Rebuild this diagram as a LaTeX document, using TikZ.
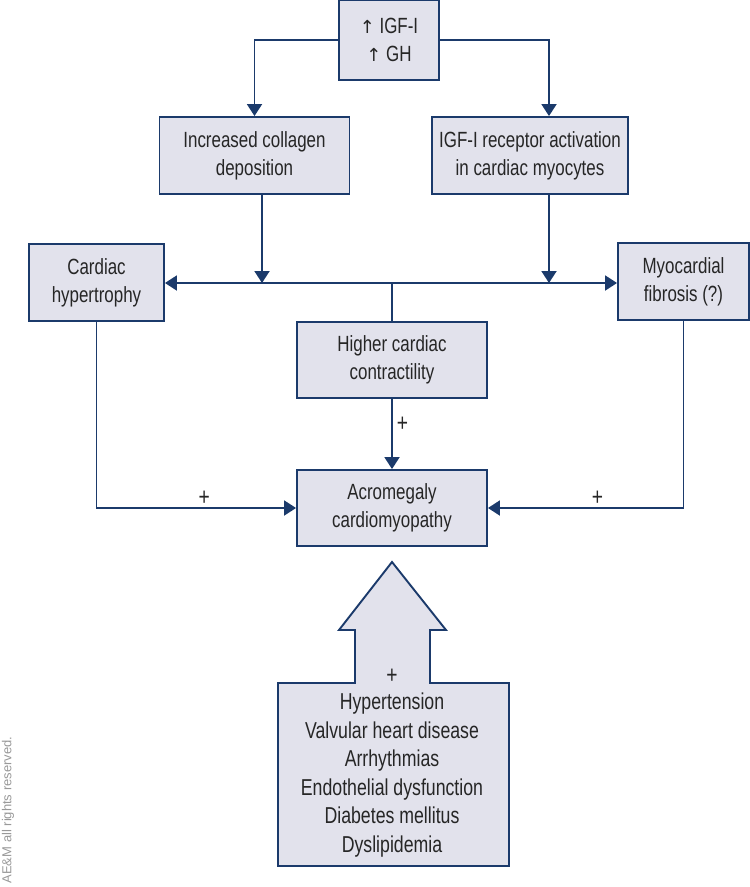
\documentclass[tikz,border=0pt]{standalone}
\usepackage{fontspec}
\setmainfont{Liberation Sans}[FakeStretch=0.77]
\newfontfamily\symfont{DejaVu Sans}
\newfontfamily\wmfont{Liberation Sans}
\usetikzlibrary{arrows.meta}
\definecolor{boxfill}{HTML}{E2E2EC}
\definecolor{navy}{HTML}{1B3A6B}
\definecolor{txt}{HTML}{262626}
\begin{document}
\begin{tikzpicture}[x=1pt,y=-1pt,
  box/.style={draw=navy, fill=boxfill, line width=1.9pt, align=center, text=txt,
    font=\fontsize{22}{28}\selectfont, inner sep=0pt},
  conn/.style={draw=navy, line width=1.9pt},
  arr/.style={conn, -{Triangle[length=12pt,width=15pt]}},
  plus/.style={text=txt, font=\fontsize{25}{25}\selectfont, inner sep=1pt}]
\useasboundingbox (0,0) rectangle (750,887);
\node[box, minimum width=100pt, minimum height=80pt] (top) at (389,40) {{\symfont\fontsize{18}{18}\selectfont ↑} IGF-I\\{\symfont\fontsize{18}{18}\selectfont ↑} GH};
\node[box, minimum width=190pt, minimum height=77pt] (coll) at (254.5,155.5) {Increased collagen\\deposition};
\node[box, minimum width=196pt, minimum height=77pt] (rec) at (530,155.5) {IGF-I receptor activation\\in cardiac myocytes};
\node[box, minimum width=135pt, minimum height=77pt] (hyp) at (96.5,282.5) {Cardiac\\hypertrophy};
\node[box, minimum width=131pt, minimum height=77pt] (myo) at (683.5,281.5) {Myocardial\\fibrosis (?)};
\node[box, minimum width=190pt, minimum height=76pt] (high) at (392,360) {Higher cardiac\\contractility};
\node[box, minimum width=190pt, minimum height=76pt] (acro) at (392,508) {Acromegaly\\cardiomyopathy};
\coordinate (j) at (392,283);
% big arrow + bottom box
\path[draw=navy, fill=boxfill, line width=1.9pt, line join=miter]
  (278,683) -- (355,683) -- (355,630) -- (339,630) -- (392,562) -- (446,630)
  -- (430,630) -- (430,683) -- (509,683) -- (509,866) -- (278,866) -- cycle;
\node[plus] (bplus) at (392,676) {+};
\node[align=center, text=txt, font=\fontsize{23}{28.5}\selectfont, inner sep=0pt, anchor=north] (risk) at (392,693)
  {Hypertension\\Valvular heart disease\\Arrhythmias\\Endothelial dysfunction\\Diabetes mellitus\\Dyslipidemia};
% connectors
\draw[arr] (top.west) -| (coll.north);
\draw[arr] (top.east) -| ([xshift=19pt]rec.north);
\draw[arr] ([xshift=7.5pt]coll.south) -- ([xshift=7.5pt]coll.south |- j);
\draw[arr] ([xshift=19pt]rec.south) -- ([xshift=19pt]rec.south |- j);
\draw[conn, {Triangle[length=12pt,width=15pt]}-{Triangle[length=12pt,width=15pt]}] (hyp.east |- j) -- (myo.west |- j);
\draw[conn] (j) -- (high.north);
\draw[arr] (high.south) -- (acro.north) node[plus, pos=0.36, right=3pt] (p1) {+};
\draw[arr] (hyp.south) |- (acro.west) node[plus, pos=0.77, above=1pt] (p2) {+};
\draw[arr] (myo.south) |- (acro.east) node[plus, pos=0.72, above=1pt] (p3) {+};
\node[rotate=90, text=black!40, font=\wmfont\fontsize{13}{13}\selectfont, inner sep=0pt] (wm) at (8,810) {AE\&M all rights reserved.};
\end{tikzpicture}
\end{document}
